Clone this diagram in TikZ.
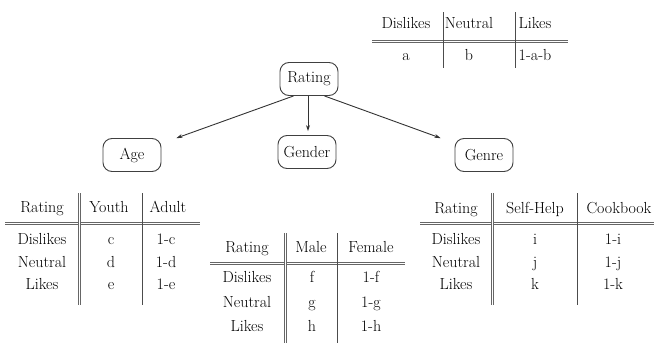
\documentclass[tikz,border=0pt]{standalone}
\usetikzlibrary{positioning,arrows.meta,calc}
\tikzset{
  varnode/.style={draw=black!75, line width=0.9pt, rounded corners=9pt,
    minimum width=58pt, minimum height=33pt, inner xsep=3pt},
  link/.style={draw=black!80, line width=0.9pt, -{Stealth[length=6pt,width=4pt]}},
  cell/.style={inner sep=0pt, text height=11pt, text depth=3pt, text=black},
  vrule/.style={draw=black!70, line width=1pt},
  dvrule/.style={draw=black!60, line width=0.8pt, double, double distance=1.6pt},
  hrule/.style={draw=black!60, line width=0.9pt, double, double distance=1.6pt}
}
\begin{document}
\begin{tikzpicture}[x=1pt, y=-1pt, font=\fontsize{16}{18}\selectfont]
    \useasboundingbox (0,0) rectangle (654,343);

    % variables
    \node[varnode] (rating) at (309,79)  {Rating};
    \node[varnode] (age)    at (132,155) {Age};
    \node[varnode] (gender) at (307,152) {Gender};
    \node[varnode] (genre)  at (484,155) {Genre};

    \draw[link] ([xshift=14pt]rating.south west) -- ([xshift=15pt]age.north east);
    \draw[link] ([xshift=-1pt]rating.south) -- ([xshift=-1pt,yshift=4pt]rating.south |- gender.north);
    \draw[link] ([xshift=-14pt]rating.south east) -- ([xshift=-14pt]genre.north west);

    % prior table of Rating
    \foreach \x/\t [count=\i] in {406/Dislikes, 469/Neutral, 535/Likes}
      \node[cell] (prior-h\i) at (\x,24) {\t};
    \foreach \x/\t [count=\i] in {406/a, 469/b, 535/1-a-b}
      \node[cell] (prior-r\i) at (\x,56) {\t};
    \draw[hrule] (372,41.5) -- (568,41.5);
    \draw[vrule] (443,12) -- (443,68);
    \draw[vrule] (515,12) -- (515,68);

    % table of Age
    \foreach \x/\t [count=\i] in {42/Rating, 109/Youth, 168/Adult}
      \node[cell] (age-h\i) at (\x,208) {\t};
    \foreach \y/\a/\b/\c [count=\j] in {240/Dislikes/c/1-c, 263/Neutral/d/1-d, 285/Likes/e/1-e}{
      \node[cell] (age-\j a) at (42,\y)  {\a};
      \node[cell] (age-\j b) at (111,\y) {\b};
      \node[cell] (age-\j c) at (166,\y) {\c};
    }
    \draw[hrule] (5,223.5) -- (200,223.5);
    \draw[dvrule] (79.5,193) -- (79.5,305);
    \draw[vrule] (142,193) -- (142,305);

    % table of Gender
    \foreach \x/\t [count=\i] in {247/Rating, 311/Male, 371/Female}
      \node[cell] (gender-h\i) at (\x,248) {\t};
    \foreach \y/\a/\b/\c [count=\j] in {278/Dislikes/f/1-f, 303/Neutral/g/1-g, 327/Likes/h/1-h}{
      \node[cell] (gender-\j a) at (247,\y) {\a};
      \node[cell] (gender-\j b) at (312,\y) {\b};
      \node[cell] (gender-\j c) at (371,\y) {\c};
    }
    \draw[hrule] (210,263.5) -- (405,263.5);
    \draw[dvrule] (285.5,233) -- (285.5,343);
    \draw[vrule] (337,233) -- (337,343);

    % table of Genre
    \foreach \x/\t [count=\i] in {456/Rating, 535/Self-Help, 619/Cookbook}
      \node[cell] (genre-h\i) at (\x,209) {\t};
    \foreach \y/\a/\b/\c [count=\j] in {240/Dislikes/i/1-i, 263/Neutral/j/1-j, 285/Likes/k/1-k}{
      \node[cell] (genre-\j a) at (456,\y) {\a};
      \node[cell] (genre-\j b) at (535,\y) {\b};
      \node[cell] (genre-\j c) at (613,\y) {\c};
    }
    \draw[hrule] (420,223.5) -- (654,223.5);
    \draw[dvrule] (492.5,193) -- (492.5,305);
    \draw[vrule] (577,193) -- (577,305);
\end{tikzpicture}
\end{document}
